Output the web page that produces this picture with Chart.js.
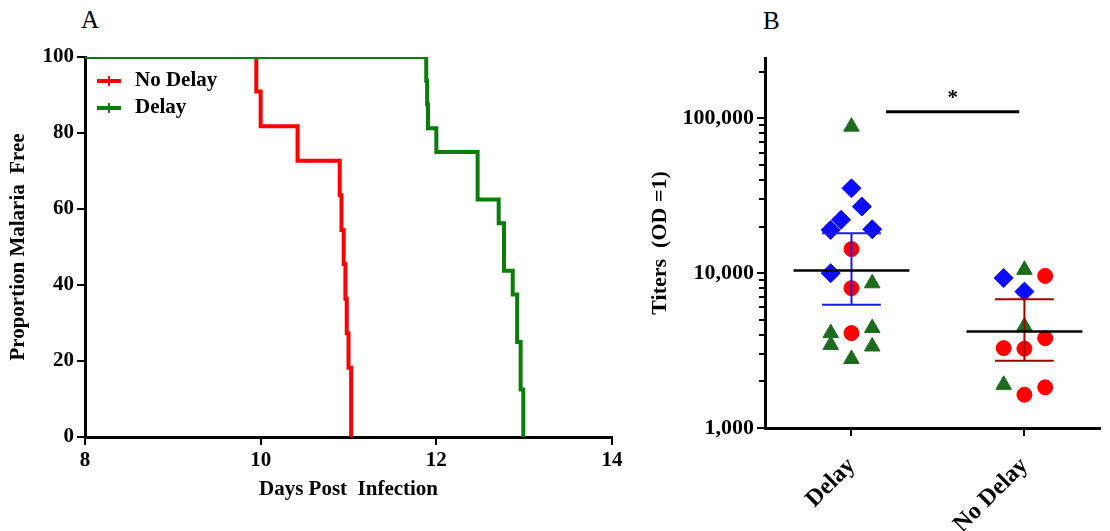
<!DOCTYPE html>
<html>
<head>
<meta charset="utf-8">
<script src="https://cdn.jsdelivr.net/npm/chart.js@4.4.1/dist/chart.umd.min.js"></script>
<style>
  body { margin: 0; background: #fff; width: 1110px; height: 531px; position: relative; overflow: hidden; }
  canvas { position: absolute; top: 0; }
  #chartA { left: 0; }
  #chartB { left: 620px; }
  .panel { position: absolute; font: 25px "Liberation Serif", serif; color: #000; line-height: 1; }
</style>
</head>
<body>
<div class="panel" style="left:81px;top:7px">A</div>
<div class="panel" style="left:763px;top:8px">B</div>
<canvas id="chartA" width="640" height="531"></canvas>
<canvas id="chartB" width="490" height="531"></canvas>
<script>
// ---- panel A: proportion malaria free by day post infection
const dayTicks = [8, 10, 12, 14];
const noDelayDays = [8, 9.95, 10.0, 10.42, 10.9, 10.92, 10.945, 10.965, 10.98, 11.0, 11.03];
const noDelayFree = [100, 90.9, 81.8, 72.7, 63.6, 54.5, 45.5, 36.4, 27.3, 18.2, 0];
const delayDays = [8, 11.885, 11.895, 11.905, 12.0, 12.47, 12.71, 12.77, 12.87, 12.92, 12.96, 12.99];
const delayFree = [100, 93.75, 87.5, 81.25, 75, 62.5, 56.25, 43.75, 37.5, 25, 12.5, 0];

// ---- panel B: titers (OD = 1), one entry per animal
const groups = ['Delay', 'No Delay'];
// col = slot of the symbol inside its column (-2 .. 2)
const triGroup = [1, 1, 1, 1, 1, 1, 1, 2, 2, 2];
const triCol = [0, 2, -2, 2, -2, 2, 0, 0, 0, -2];
const triTiter = [88300, 8600, 4100, 4420, 3440, 3360, 2790, 10500, 4530, 1900];
const diaGroup = [1, 1, 1, 1, 1, 1, 2, 2];
const diaCol = [0, 1, -1, -2, 2, -2, -2, 0];
const diaTiter = [35300, 26900, 22100, 19000, 19200, 10000, 9300, 7600];
const dotGroup = [1, 1, 1, 2, 2, 2, 2, 2, 2];
const dotCol = [0, 0, 0, 2, 2, -2, 0, 0, 2];
const dotTiter = [14300, 8000, 4100, 9600, 3800, 3280, 3250, 1640, 1830];
const groupMean = [10400, 4200];
const groupUpper = [18100, 6790];
const groupLower = [6240, 2720];
const sigTiter = 110000;
const sigFrom = 1.2, sigTo = 1.97;
const yMajor = [1000, 10000, 100000];

const serif = '"Liberation Serif", "Times New Roman", serif';
const bold = (size) => ({ family: serif, size: size, weight: 'bold' });

const toXY = (xs, ys) => xs.map((x, i) => ({ x: x, y: ys[i] }));

// legend drawn inside the plot, top left (No Delay first)
const legendA = {
  id: 'legendA',
  afterDraw(chart) {
    const { ctx, chartArea } = chart;
    const items = chart.data.datasets.slice().reverse();
    ctx.save();
    ctx.font = 'bold 21px ' + serif;
    ctx.textBaseline = 'middle';
    ctx.textAlign = 'left';
    items.forEach((ds, i) => {
      const y = chartArea.top + 24 + i * 27;
      const x = chartArea.left + 12;
      ctx.strokeStyle = ds.borderColor;
      ctx.lineWidth = 4;
      ctx.beginPath();
      ctx.moveTo(x, y);
      ctx.lineTo(x + 24, y);
      ctx.stroke();
      ctx.lineWidth = 2;
      ctx.beginPath();
      ctx.moveTo(x + 12, y - 5);
      ctx.lineTo(x + 12, y + 5);
      ctx.stroke();
      ctx.fillStyle = '#000';
      ctx.fillText(ds.label, x + 38, y);
    });
    ctx.restore();
  }
};

new Chart(document.getElementById('chartA'), {
  type: 'line',
  data: {
    datasets: [
      {
        label: 'Delay',
        data: toXY(delayDays, delayFree),
        borderColor: '#0b7d0b',
        borderWidth: 4,
        stepped: true,
        pointRadius: 0,
        fill: false
      },
      {
        label: 'No Delay',
        data: toXY(noDelayDays, noDelayFree),
        borderColor: '#ff0000',
        borderWidth: 4,
        stepped: true,
        pointRadius: 0,
        fill: false
      }
    ]
  },
  options: {
    responsive: false,
    animation: false,
    layout: { padding: { top: 57, right: 28, left: 0, bottom: 0 } },
    plugins: { tooltip: { enabled: false }, legend: { display: false } },
    scales: {
      x: {
        type: 'linear',
        min: 8,
        max: 14,
        afterBuildTicks: (s) => { s.ticks = dayTicks.map((v) => ({ value: v })); },
        afterFit: (s) => { s.height = 94; },
        ticks: { color: '#000', font: bold(21), padding: 3 },
        grid: { drawOnChartArea: false, tickLength: 8, color: '#000', lineWidth: 2 },
        border: { color: '#000', width: 3 },
        title: { display: true, text: 'Days Post  Infection', color: '#000', font: bold(21), padding: { bottom: 29 } }
      },
      y: {
        min: 0,
        max: 100,
        ticks: { stepSize: 20, color: '#000', font: bold(21), padding: 3 },
        afterFit: (s) => { s.width = 85; },
        grid: { drawOnChartArea: false, tickLength: 8, color: '#000', lineWidth: 2 },
        border: { color: '#000', width: 3 },
        title: { display: true, text: 'Proportion Malaria  Free', color: '#000', font: bold(21), padding: { top: 6 } }
      }
    }
  },
  plugins: [legendA]
});

// ---- panel B
const slot = 0.06;
const pts = (g, c, t) => t.map((v, i) => ({ x: g[i] + c[i] * slot, y: v }));
const seg = (x1, y1, x2, y2, color, w) => ({
  data: [{ x: x1, y: y1 }, { x: x2, y: y2 }],
  showLine: true,
  borderColor: color,
  borderWidth: w,
  pointRadius: 0
});
const barColors = ['#1a1aee', '#a00000'];

const lineSets = [seg(sigFrom, sigTiter, sigTo, sigTiter, '#000', 3)];
groups.forEach((g, i) => {
  const c = i + 1;
  lineSets.push(seg(c - 0.335, groupMean[i], c + 0.335, groupMean[i], '#000', 2.5));
  lineSets.push(seg(c, groupLower[i], c, groupUpper[i], barColors[i], 2));
  lineSets.push(seg(c - 0.17, groupUpper[i], c + 0.17, groupUpper[i], barColors[i], 2));
  lineSets.push(seg(c - 0.17, groupLower[i], c + 0.17, groupLower[i], barColors[i], 2));
});

const yMinor = [];
[1000, 10000].forEach((d) => { for (let k = 2; k <= 9; k++) yMinor.push(k * d); });
yMinor.push(200000);

const bExtras = {
  id: 'bExtras',
  afterDraw(chart) {
    const { ctx, scales: { x, y } } = chart;
    ctx.save();
    ctx.strokeStyle = '#000';
    ctx.lineWidth = 2;
    yMinor.forEach((v) => {
      const py = Math.round(y.getPixelForValue(v));
      ctx.beginPath();
      ctx.moveTo(y.right - 6, py);
      ctx.lineTo(y.right, py);
      ctx.stroke();
    });
    ctx.fillStyle = '#000';
    ctx.font = 'bold 21px ' + serif;
    ctx.textAlign = 'center';
    ctx.textBaseline = 'alphabetic';
    ctx.fillText('*', x.getPixelForValue((sigFrom + sigTo) / 2), y.getPixelForValue(sigTiter) - 8);
    ctx.restore();
  }
};

const fmt = (v) => String(v).replace(/\B(?=(\d{3})+(?!\d))/g, ',');

new Chart(document.getElementById('chartB'), {
  type: 'scatter',
  data: {
    datasets: lineSets.concat([
      {
        data: pts(triGroup, triCol, triTiter),
        pointStyle: 'triangle',
        pointRadius: 9,
        backgroundColor: '#1d6b1d',
        borderColor: '#1d6b1d',
        borderWidth: 1
      },
      {
        data: pts(diaGroup, diaCol, diaTiter),
        pointStyle: 'rectRot',
        pointRadius: 9.5,
        backgroundColor: '#0a0aff',
        borderColor: '#0a0aff',
        borderWidth: 1
      },
      {
        data: pts(dotGroup, dotCol, dotTiter),
        pointStyle: 'circle',
        pointRadius: 7.5,
        backgroundColor: '#ff0000',
        borderColor: '#ff0000',
        borderWidth: 1
      }
    ])
  },
  options: {
    responsive: false,
    animation: false,
    layout: { padding: { top: 58, right: 0, left: 0, bottom: 0 } },
    plugins: { legend: { display: false }, tooltip: { enabled: false } },
    scales: {
      x: {
        type: 'linear',
        min: 0.5,
        max: 2.434,
        afterBuildTicks: (s) => { s.ticks = groups.map((g, i) => ({ value: i + 1 })); },
        afterFit: (s) => { s.height = 103; },
        ticks: { callback: (v) => groups[v - 1], minRotation: 45, maxRotation: 45, color: '#000', font: bold(24), padding: 16 },
        grid: { drawOnChartArea: false, tickLength: 8, color: '#000', lineWidth: 2 },
        border: { color: '#000', width: 3 }
      },
      y: {
        type: 'logarithmic',
        min: 1000,
        max: 245000,
        afterBuildTicks: (s) => { s.ticks = yMajor.map((v) => ({ value: v })); },
        afterFit: (s) => { s.width = 145; },
        ticks: { callback: (v) => fmt(v), color: '#000', font: bold(22), padding: 3 },
        grid: { drawOnChartArea: false, tickLength: 8, color: '#000', lineWidth: 2 },
        border: { color: '#000', width: 3 },
        title: { display: true, text: 'Titers  (OD =1)', color: '#000', font: bold(22), padding: { top: 27 } }
      }
    }
  },
  plugins: [bExtras]
});
</script>
</body>
</html>
